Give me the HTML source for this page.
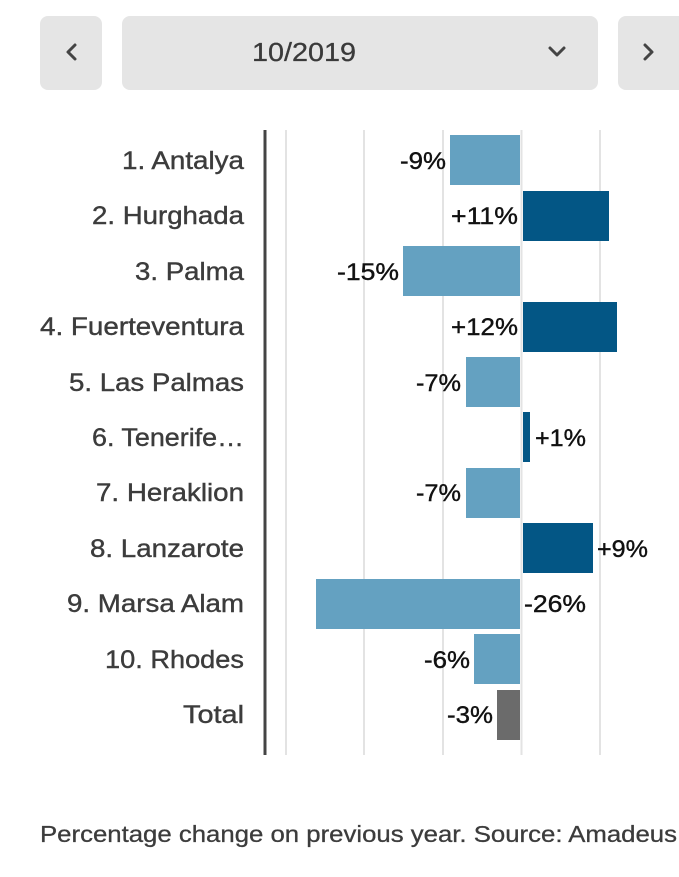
<!DOCTYPE html>
<html><head><style>
body{margin:0;width:679px;height:877px;background:#fff;overflow:hidden;font-family:"Liberation Sans",sans-serif;}
.btn{position:absolute;top:16px;height:74px;background:#e5e5e5;border-radius:8px;}
</style></head><body>
<div class="btn" style="left:40px;width:62px"></div>
<div class="btn" style="left:122px;width:476px"></div>
<div class="btn" style="left:618px;width:70px"></div>
<svg width="679" height="877" style="position:absolute;left:0;top:0" font-family="Liberation Sans, sans-serif">
<g fill="none" stroke="#444" stroke-width="3" stroke-linecap="round" stroke-linejoin="round">
<polyline points="75,45 68,52 75,59"/>
<polyline points="550,48 557,55 564,48"/>
<polyline points="645,45 652,52 645,59"/>
</g>
<text x="252" y="61" font-size="26" fill="#3a3a3a" stroke="#3a3a3a" stroke-width="0.3" textLength="104" lengthAdjust="spacingAndGlyphs">10/2019</text>
<g stroke="#e3e3e3" stroke-width="2">
<line x1="286" y1="130" x2="286" y2="755"/>
<line x1="364" y1="130" x2="364" y2="755"/>
<line x1="443" y1="130" x2="443" y2="755"/>
<line x1="521.5" y1="130" x2="521.5" y2="755"/>
<line x1="600" y1="130" x2="600" y2="755"/>
</g>
<line x1="265" y1="130" x2="265" y2="755" stroke="#444" stroke-width="3"/>
<g font-size="25" fill="#3c3c3c" stroke="#3c3c3c" stroke-width="0.4" text-anchor="end" lengthAdjust="spacingAndGlyphs">
<text x="244" y="169" textLength="122" lengthAdjust="spacingAndGlyphs">1. Antalya</text>
<text x="244" y="224" textLength="152" lengthAdjust="spacingAndGlyphs">2. Hurghada</text>
<text x="244" y="280" textLength="109" lengthAdjust="spacingAndGlyphs">3. Palma</text>
<text x="244" y="335" textLength="204" lengthAdjust="spacingAndGlyphs">4. Fuerteventura</text>
<text x="244" y="391" textLength="175" lengthAdjust="spacingAndGlyphs">5. Las Palmas</text>
<text x="244" y="446" textLength="152" lengthAdjust="spacingAndGlyphs">6. Tenerife…</text>
<text x="244" y="501" textLength="148" lengthAdjust="spacingAndGlyphs">7. Heraklion</text>
<text x="244" y="557" textLength="154" lengthAdjust="spacingAndGlyphs">8. Lanzarote</text>
<text x="244" y="612" textLength="177" lengthAdjust="spacingAndGlyphs">9. Marsa Alam</text>
<text x="244" y="668" textLength="139" lengthAdjust="spacingAndGlyphs">10. Rhodes</text>
<text x="244" y="723" textLength="61" lengthAdjust="spacingAndGlyphs">Total</text>
</g>
<g>
<rect x="450" y="135" width="70" height="50" fill="#64a1c1"/>
<rect x="523" y="191" width="86" height="50" fill="#035685"/>
<rect x="403" y="246" width="117" height="50" fill="#64a1c1"/>
<rect x="523" y="302" width="94" height="50" fill="#035685"/>
<rect x="466" y="357" width="54" height="50" fill="#64a1c1"/>
<rect x="523" y="412" width="7" height="50" fill="#035685"/>
<rect x="466" y="468" width="54" height="50" fill="#64a1c1"/>
<rect x="523" y="523" width="70" height="50" fill="#035685"/>
<rect x="316" y="579" width="204" height="50" fill="#64a1c1"/>
<rect x="474" y="634" width="46" height="50" fill="#64a1c1"/>
<rect x="497" y="690" width="23" height="50" fill="#6b6b6b"/>
</g>
<g font-size="24" fill="#111" stroke="#111" stroke-width="0.4">
<text x="400" y="169" textLength="46" lengthAdjust="spacingAndGlyphs">-9%</text>
<text x="451" y="224" textLength="67" lengthAdjust="spacingAndGlyphs">+11%</text>
<text x="337" y="280" textLength="62" lengthAdjust="spacingAndGlyphs">-15%</text>
<text x="451" y="335" textLength="67" lengthAdjust="spacingAndGlyphs">+12%</text>
<text x="416" y="391" textLength="45" lengthAdjust="spacingAndGlyphs">-7%</text>
<text x="535" y="446" textLength="51" lengthAdjust="spacingAndGlyphs">+1%</text>
<text x="416" y="501" textLength="45" lengthAdjust="spacingAndGlyphs">-7%</text>
<text x="597" y="557" textLength="51" lengthAdjust="spacingAndGlyphs">+9%</text>
<text x="524" y="612" textLength="62" lengthAdjust="spacingAndGlyphs">-26%</text>
<text x="424" y="668" textLength="46" lengthAdjust="spacingAndGlyphs">-6%</text>
<text x="447" y="723" textLength="46" lengthAdjust="spacingAndGlyphs">-3%</text>
</g>
<text x="40" y="842" font-size="23" fill="#3c3c3c" stroke="#3c3c3c" stroke-width="0.3" textLength="637" lengthAdjust="spacingAndGlyphs">Percentage change on previous year. Source: Amadeus</text>
</svg>
</body></html>
